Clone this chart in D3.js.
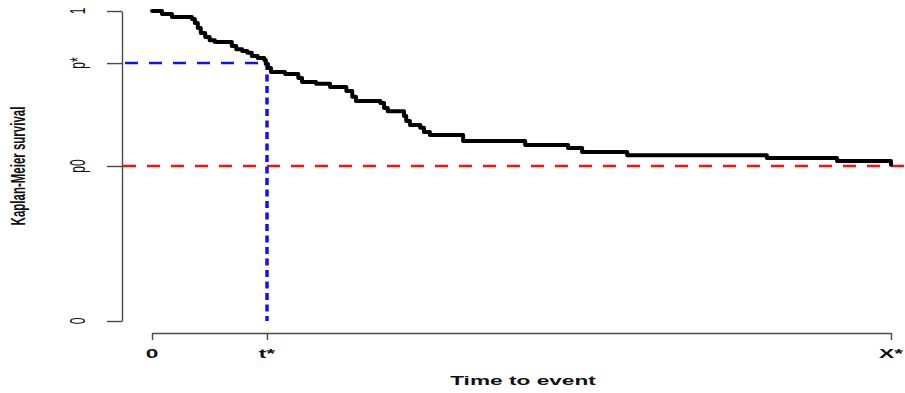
<!DOCTYPE html>
<html>
<head>
<meta charset="utf-8">
<script src="https://cdn.jsdelivr.net/npm/d3@7"></script>
<style>
  html, body { margin: 0; padding: 0; background: #fff; }
  svg { display: block; }
  .lbl { font-family: "Liberation Sans", Arial, sans-serif; fill: #111; font-weight: bold; }
</style>
</head>
<body>
<script>
// event times (0..xMax where xMax is X*) and Kaplan-Meier survival after each step
const times = [0, 1.35, 2.7, 5.4, 5.8, 6.2, 6.6, 7.2, 7.8, 8.5, 10.8, 11.4, 12.2, 12.9, 13.5, 14.3,
  15.2, 15.4, 15.7, 16.1, 18.0, 19.8, 20.3, 22.2, 24.1, 26.3, 27.1, 27.6, 30.9, 31.4, 31.9, 34.1,
  34.4, 34.9, 36.3, 36.8, 37.6, 42.1, 50.5, 56.3, 58.2, 64.3, 83.2, 92.7, 100];
const survival = [1, 0.990, 0.981, 0.974, 0.961, 0.945, 0.929, 0.916, 0.906, 0.900, 0.887, 0.877,
  0.871, 0.865, 0.855, 0.848, 0.842, 0.829, 0.816, 0.803, 0.797, 0.784, 0.771, 0.765, 0.755, 0.742,
  0.723, 0.710, 0.703, 0.687, 0.677, 0.661, 0.645, 0.632, 0.623, 0.610, 0.600, 0.581, 0.568, 0.558,
  0.545, 0.535, 0.526, 0.516, 0.504];

const xMax = 100;
const tStar = 15.56;
const pStar = 0.832;
const p0 = 0.5;

const xTickValues = [0, tStar, xMax];
const xTickLabels = ['0', 't*', 'X*'];
const yTickValues = [0, p0, pStar, 1];
const yTickLabels = ['0', 'p0', 'p*', '1'];

const xTitle = 'Time to event';
const yTitle = 'Kaplan-Meier survival';

const W = 905, H = 393;
const stretch = 1.8;   // the reference is squeezed wide, text included

const x = d3.scaleLinear().domain([0, xMax]).range([152, 891]);
const y = d3.scaleLinear().domain([0, 1]).range([321, 11]);
const yAxisX = 122, xAxisY = 333;

const svg = d3.select('body').append('svg')
  .attr('width', W)
  .attr('height', H);

svg.append('rect').attr('width', W).attr('height', H).attr('fill', '#fff');

// axes ------------------------------------------------------------------
const yAxis = svg.append('g')
  .attr('transform', 'translate(' + yAxisX + ',0)')
  .call(d3.axisLeft(y).tickValues(yTickValues).tickSize(15).tickSizeOuter(0).tickFormat(''));

const xAxis = svg.append('g')
  .attr('transform', 'translate(0,' + xAxisY + ')')
  .call(d3.axisBottom(x).tickValues(xTickValues).tickSize(7).tickSizeOuter(0).tickFormat(''));

[yAxis, xAxis].forEach(a => {
  a.selectAll('path, line').attr('stroke', '#4a4a4a').attr('stroke-width', 1.4);
});

// reference lines -------------------------------------------------------
svg.append('line')
  .attr('x1', yAxisX + 1).attr('x2', W)
  .attr('y1', y(p0)).attr('y2', y(p0))
  .attr('stroke', '#ff1010').attr('stroke-width', 2.5)
  .attr('stroke-dasharray', '13,11');

svg.append('line')
  .attr('x1', yAxisX + 3).attr('x2', x(tStar))
  .attr('y1', y(pStar)).attr('y2', y(pStar))
  .attr('stroke', '#1010ff').attr('stroke-width', 2.5)
  .attr('stroke-dasharray', '13,11');

svg.append('line')
  .attr('x1', x(tStar)).attr('x2', x(tStar))
  .attr('y1', y(pStar)).attr('y2', y(0))
  .attr('stroke', '#1010ff').attr('stroke-width', 3.5)
  .attr('stroke-dasharray', '7,4.5');

// KM curve --------------------------------------------------------------
const km = times.map((t, i) => [t, survival[i]]);
const line = d3.line()
  .x(d => x(d[0]))
  .y(d => y(d[1]))
  .curve(d3.curveStepAfter);

svg.append('path')
  .datum(km)
  .attr('d', line)
  .attr('fill', 'none')
  .attr('stroke', '#000')
  .attr('stroke-width', 4)
  .attr('stroke-linejoin', 'round')
  .attr('stroke-linecap', 'round');

// labels ----------------------------------------------------------------
svg.selectAll('.xtick')
  .data(xTickValues)
  .enter()
  .append('text')
  .attr('class', 'lbl xtick')
  .attr('transform', d => 'translate(' + x(d) + ',354) scale(' + stretch + ',1)')
  .attr('text-anchor', 'middle')
  .attr('dominant-baseline', 'central')
  .style('font-size', '12.6px')
  .text((d, i) => xTickLabels[i]);

svg.selectAll('.ytick')
  .data(yTickValues)
  .enter()
  .append('text')
  .attr('class', 'lbl ytick')
  .attr('transform', d => 'translate(78,' + y(d) + ') scale(' + stretch + ',1) rotate(-90)')
  .attr('text-anchor', 'middle')
  .attr('dominant-baseline', 'central')
  .style('font-size', '12px')
  .style('font-weight', 'normal')
  .text((d, i) => yTickLabels[i]);

svg.append('text')
  .attr('class', 'lbl')
  .attr('transform', 'translate(523,381) scale(' + stretch + ',1)')
  .attr('text-anchor', 'middle')
  .attr('dominant-baseline', 'central')
  .style('font-size', '12.6px')
  .text(xTitle);

svg.append('text')
  .attr('class', 'lbl')
  .attr('transform', 'translate(18,166) scale(' + stretch + ',1) rotate(-90)')
  .attr('text-anchor', 'middle')
  .attr('dominant-baseline', 'central')
  .style('font-size', '11.5px')
  .text(yTitle);
</script>
</body>
</html>
